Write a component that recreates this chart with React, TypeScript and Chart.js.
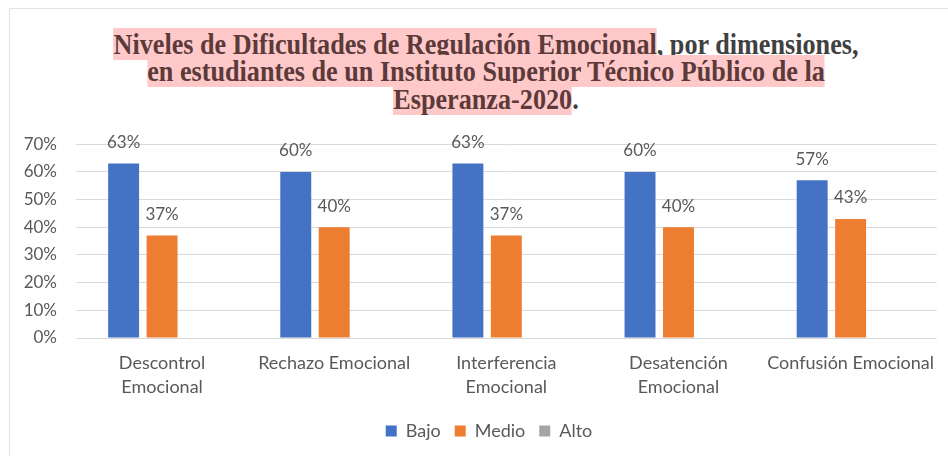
import React, { useEffect, useLayoutEffect, useRef, useState } from "react";
import { Chart, registerables } from "chart.js";

Chart.register(...registerables);

const categories: (string | string[])[] = [
  ["Descontrol", "Emocional"],
  "Rechazo Emocional",
  ["Interferencia", "Emocional"],
  ["Desatención", "Emocional"],
  "Confusión Emocional",
];
const seriesNames = ["Bajo", "Medio", "Alto"];
const bajo = [63, 60, 63, 60, 57];
const medio = [37, 40, 37, 40, 43];
const alto: (number | null)[] = [null, null, null, null, null];
const yTicks = [0, 10, 20, 30, 40, 50, 60, 70];
const seriesColors = ["#4472C4", "#ED7D31", "#A5A5A5"];

const FONT = "Lato";
const TXT = "#595959";

const valueLabels = {
  id: "valueLabels",
  afterDatasetsDraw(chart: any) {
    const ctx = chart.ctx;
    ctx.save();
    ctx.font = `17px ${FONT}`;
    ctx.fillStyle = TXT;
    ctx.textAlign = "center";
    ctx.textBaseline = "middle";
    chart.data.datasets.forEach((ds: any, i: number) => {
      const meta = chart.getDatasetMeta(i);
      meta.data.forEach((bar: any, j: number) => {
        const v = ds.data[j];
        if (v == null) return;
        ctx.fillText(v + "%", bar.x, bar.y - 21);
      });
    });
    ctx.restore();
  },
};

// shift the legend box so that it is centred like the original
const legendShift = {
  id: "legendShift",
  afterLayout(chart: any) {
    if (chart.legend) chart.legend.left = chart.legend.left + 40;
  },
};

export default function App() {
  const canvasRef = useRef<HTMLCanvasElement>(null);
  const line1Ref = useRef<HTMLSpanElement>(null);
  const [sx, setSx] = useState(1);

  useLayoutEffect(() => {
    if (line1Ref.current) {
      const w = line1Ref.current.getBoundingClientRect().width;
      if (w > 0) setSx(745 / w);
    }
  }, []);

  useEffect(() => {
    const values = [bajo, medio, alto];
    const chart = new Chart(canvasRef.current as HTMLCanvasElement, {
      type: "bar",
      data: {
        labels: categories,
        datasets: seriesNames.map((name, i) => ({
          label: name,
          data: values[i],
          backgroundColor: seriesColors[i],
          borderWidth: 0,
          categoryPercentage: 0.67,
          barPercentage: 0.805,
        })),
      },
      options: {
        responsive: false,
        animation: false,
        devicePixelRatio: 1,
        layout: { padding: { top: 0, right: 10, bottom: 6, left: 0 } },
        plugins: {
          legend: {
            position: "bottom",
            labels: {
              boxWidth: 11,
              boxHeight: 11,
              padding: 14,
              color: TXT,
              font: { family: FONT, size: 18 },
            },
          },
          tooltip: { enabled: false },
          title: { display: false },
        },
        scales: {
          x: {
            grid: { display: false, drawTicks: false },
            border: { display: false },
            ticks: {
              color: TXT,
              font: { family: FONT, size: 18, lineHeight: 1.33 },
              padding: 13,
              maxRotation: 0,
              autoSkip: false,
            },
            afterFit: (s: any) => {
              s.height = 70;
            },
          },
          y: {
            min: 0,
            max: 70,
            afterBuildTicks: (s: any) => {
              s.ticks = yTicks.map((v) => ({ value: v }));
            },
            ticks: {
              color: TXT,
              font: { family: FONT, size: 17 },
              padding: 19,
              callback: (v: any) => v + "%",
            },
            grid: { color: "#D9D9D9", drawTicks: false },
            border: { display: false },
            afterFit: (s: any) => {
              s.width = 76;
            },
          },
        },
      },
      plugins: [valueLabels, legendShift],
    } as any);
    return () => chart.destroy();
  }, []);

  const hl: React.CSSProperties = { background: "#FFC9C9", color: "#5C3A3A" };
  const plain: React.CSSProperties = { color: "#404040" };

  return (
    <div
      style={{
        position: "fixed",
        left: 0,
        top: 0,
        width: 948,
        height: 456,
        overflow: "hidden",
        background: "#fff",
      }}
    >
      <div
        style={{
          position: "absolute",
          left: 9,
          top: 8,
          width: 1000,
          height: 500,
          borderLeft: "1px solid #E2E2E2",
          borderTop: "1px solid #E2E2E2",
        }}
      />
      <div
        style={{
          position: "absolute",
          left: 0,
          top: 30.5,
          width: 972,
          textAlign: "center",
          fontFamily: "'Liberation Serif', 'Times New Roman', serif",
          fontWeight: "bold",
          fontSize: 29,
          lineHeight: "27.5px",
          transform: `scaleX(${sx})`,
          transformOrigin: "486px 0",
          whiteSpace: "nowrap",
        }}
      >
        <div>
          <span ref={line1Ref}>
            <span style={hl}>Niveles de Dificultades de Regulación Emocional</span>
            <span style={plain}>, por dimensiones,</span>
          </span>
        </div>
        <div>
          <span style={hl}>en estudiantes de un Instituto Superior Técnico Público de la</span>
        </div>
        <div>
          <span style={hl}>Esperanza-2020</span>
          <span style={plain}>.</span>
        </div>
      </div>
      <canvas
        ref={canvasRef}
        width={948}
        height={341}
        style={{ position: "absolute", left: 0, top: 115, width: 948, height: 341 }}
      />
    </div>
  );
}
